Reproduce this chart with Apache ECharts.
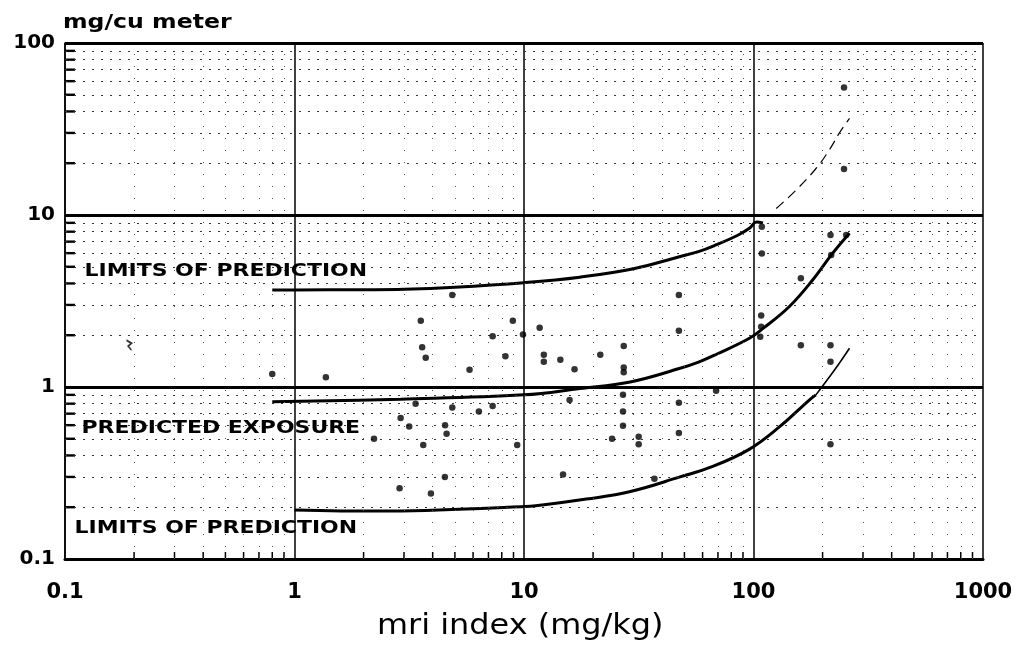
<!DOCTYPE html>
<html><head><meta charset="utf-8">
<script src="https://cdn.jsdelivr.net/npm/echarts@6/dist/echarts.min.js"></script>
<style>html,body{margin:0;padding:0;background:#fff}#c{width:1018px;height:646px}</style>
</head><body><div id="c"></div>
<script>
// ---- tick definitions ----
const xTicks = [0.1, 1, 10, 100, 1000];
const xTickLabels = ['0.1', '1', '10', '100', '1000'];
const yTicks = [0.1, 1, 10, 100];
const yTickLabels = ['0.1', '1', '10', '100'];
const minorMultipliers = [2, 3, 4, 5, 6, 7, 8, 9];
const xDecades = [0.1, 1, 10, 100];
const yDecades = [0.1, 1, 10];

// ---- measured points (mri index, mg/cu meter) ----
const measured = [
  [0.80, 1.19], [1.37, 1.14], [4.87, 3.43], [3.55, 2.43], [3.6, 1.70], [3.73, 1.48],
  [3.37, 0.80], [4.87, 0.76], [2.90, 0.66], [3.16, 0.59], [4.53, 0.60], [4.6, 0.535],
  [2.22, 0.50], [3.64, 0.46], [4.52, 0.30], [2.87, 0.258], [3.93, 0.24],
  [8.94, 2.43], [11.7, 2.21], [9.9, 2.02], [7.3, 1.97], [8.3, 1.51], [12.2, 1.54],
  [12.2, 1.40], [14.4, 1.44], [21.5, 1.54], [27.2, 1.73], [27.2, 1.30], [27.2, 1.22],
  [16.6, 1.27], [5.79, 1.26], [15.8, 0.84], [7.3, 0.775], [27, 0.90], [27, 0.72],
  [6.36, 0.72], [27, 0.596], [24.2, 0.50], [31.6, 0.514], [31.6, 0.465], [9.34, 0.46],
  [14.8, 0.31], [37, 0.293], [47.3, 3.43], [47.3, 2.12], [47.3, 0.54], [47.3, 0.81],
  [248, 18.5], [108.7, 8.55], [216.5, 7.65], [253.5, 7.65], [218, 5.85], [108.7, 5.98],
  [160.8, 4.29], [108, 2.6], [108, 2.24], [107, 1.96], [160.8, 1.75], [216.5, 1.75],
  [216.5, 1.40], [68.7, 0.95], [216.5, 0.465], [248, 55.2]
];
const strayMark = [[0.19, 1.75]];

// ---- fitted curves ----
const upperLimit = [
  [0.8, 3.66], [1, 3.67], [2, 3.68], [3, 3.7], [5, 3.8], [10, 4.04], [17.5, 4.35],
  [30, 4.87], [47.5, 5.72], [58, 6.15], [69, 6.72], [85, 7.6], [96, 8.37], [103, 9.1], [110, 9.0]
];
const upperLimitTail = [
  [125.6, 10.9], [153.6, 14.0], [187.6, 18.7], [214, 23.9], [236.5, 29.9], [262, 36.5]
];
const predicted = [
  [0.8, 0.82], [2.9, 0.85], [10, 0.9], [17.5, 0.98], [29, 1.07], [47.5, 1.28],
  [58, 1.40], [69, 1.55], [96, 1.92], [110, 2.19], [143, 2.93], [181, 4.19],
  [221, 5.98], [262, 7.83]
];
const lowerLimit = [
  [1, 0.193], [2.35, 0.19], [9.7, 0.201], [12, 0.206], [18.7, 0.223], [28.8, 0.246],
  [47.5, 0.299], [66, 0.344], [95.7, 0.434], [130, 0.588], [175, 0.84], [187, 0.9]
];
const lowerLimitTail = [[187, 0.9], [225, 1.25], [262, 1.68]];

// ---- annotations ----
const annotationText = ['LIMITS OF PREDICTION', 'PREDICTED EXPOSURE', 'LIMITS OF PREDICTION'];
const annotationPos = [[0.1216, 4.72], [0.118, 0.578], [0.110, 0.151]];

// ---- derived minor positions ----
const xMinor = xDecades.flatMap(d => minorMultipliers.map(m => +(d * m).toPrecision(3)));
const yMinor = yDecades.flatMap(d => minorMultipliers.map(m => +(d * m).toPrecision(3)));

function labelFor(ticks, labels) {
  return function (v) {
    const i = ticks.findIndex(t => Math.abs(Math.log10(t) - Math.log10(v)) < 1e-6);
    return i >= 0 ? labels[i] : '';
  };
}

const chart = echarts.init(document.getElementById('c'), null, { renderer: 'canvas' });
const option = {
  backgroundColor: '#fff',
  animation: false,
  grid: { left: 65, right: 35, top: 43, bottom: 87, containLabel: false },
  xAxis: {
    type: 'log', logBase: 10, min: 0.1, max: 1000,
    axisLine: { show: true, lineStyle: { color: '#000', width: 3 } },
    axisTick: { show: false },
    axisLabel: {
      margin: 23, color: '#000', fontFamily: 'DejaVu Sans', fontWeight: 'bold', fontSize: 21,
      formatter: labelFor(xTicks, xTickLabels), showMinLabel: true, showMaxLabel: true
    },
    splitLine: { show: true, lineStyle: { color: '#000', width: 1.5 } }
  },
  yAxis: {
    type: 'log', logBase: 10, min: 0.1, max: 100,
    axisLine: { show: true, lineStyle: { color: '#000', width: 1.5 } },
    axisTick: { show: false },
    axisLabel: {
      margin: 10, color: '#000', fontFamily: 'DejaVu Sans', fontWeight: 'bold', fontSize: 20,
      formatter: labelFor(yTicks, yTickLabels), showMinLabel: true, showMaxLabel: true
    },
    splitLine: { show: true, lineStyle: { color: '#000', width: 3 } }
  },
  graphic: [
    { type: 'text', x: 63, y: 23, scaleX: 1.18, style: { text: 'mg/cu meter', fill: '#000', font: 'bold 20px "DejaVu Sans"', align: 'left', verticalAlign: 'middle' } },
    { type: 'text', x: 377, y: 627, scaleX: 1.14, style: { text: 'mri index (mg/kg)', fill: '#000', font: '28px "DejaVu Sans"', align: 'left', verticalAlign: 'middle' } }
  ],
  series: [
    { // minor grid lines
      type: 'scatter', data: [[0.1, 0.1]], symbolSize: 0, silent: true, z: 1, clip: false,
      markLine: {
        silent: true, symbol: 'none', label: { show: false }, animation: false,
        data: [
          ...yMinor.map(v => ({ yAxis: v, lineStyle: { color: '#333', width: 1.1, type: [2, 7] } })),
          ...xMinor.map(v => ({ xAxis: v, lineStyle: { color: '#555', width: 1, type: [1, 11] } }))
        ]
      }
    },
    { // left inner minor ticks
      type: 'custom', silent: true, clip: false, z: 3,
      data: yMinor.map(v => [0.1, v]),
      renderItem: function (params, api) {
        const p = api.coord([api.value(0), api.value(1)]);
        return { type: 'rect', shape: { x: p[0], y: p[1] - 1.2, width: 10, height: 2.4 }, style: { fill: '#000' } };
      }
    },
    { // bottom inner minor ticks
      type: 'custom', silent: true, clip: false, z: 3,
      data: xMinor.map(v => [v, 0.1]),
      renderItem: function (params, api) {
        const p = api.coord([api.value(0), api.value(1)]);
        return { type: 'rect', shape: { x: p[0] - 0.75, y: p[1] - 7, width: 1.5, height: 7 }, style: { fill: '#000' } };
      }
    },
    { name: 'upper limit', type: 'line', data: upperLimit, smooth: 0.4, symbol: 'none', z: 4,
      lineStyle: { color: '#000', width: 3 } },
    { name: 'upper limit (ext)', type: 'line', data: upperLimitTail, smooth: 0.4, symbol: 'none', z: 4,
      lineStyle: { color: '#000', width: 1.2, type: [10, 6] } },
    { name: 'predicted exposure', type: 'line', data: predicted, smooth: 0.4, symbol: 'none', z: 4,
      lineStyle: { color: '#000', width: 3 } },
    { name: 'lower limit', type: 'line', data: lowerLimit, smooth: 0.4, symbol: 'none', z: 4,
      lineStyle: { color: '#000', width: 3 } },
    { name: 'lower limit (ext)', type: 'line', data: lowerLimitTail, smooth: 0.4, symbol: 'none', z: 4,
      lineStyle: { color: '#000', width: 1.6 } },
    { name: 'measured', type: 'scatter', data: measured, symbol: 'circle', symbolSize: 6.5, z: 5, clip: false,
      itemStyle: { color: '#000' } },
    { name: 'stray', type: 'scatter', data: strayMark, z: 5, clip: false,
      symbol: 'path://M1,0 L4,3 L2,6 L4,10', symbolSize: [5, 10],
      itemStyle: { color: 'none', borderColor: '#000', borderWidth: 1.5 } },
    { name: 'annotations', type: 'custom', data: annotationPos, z: 6, silent: true,
      renderItem: function (params, api) {
        const p = api.coord([api.value(0), api.value(1)]);
        return {
          type: 'text', x: p[0], y: p[1], scaleX: 1.22,
          style: { text: annotationText[params.dataIndex], fill: '#000',
                   font: 'bold 18px "DejaVu Sans"', align: 'left', verticalAlign: 'middle' }
        };
      }
    }
  ]
};
chart.setOption(option);
</script>
</body></html>
